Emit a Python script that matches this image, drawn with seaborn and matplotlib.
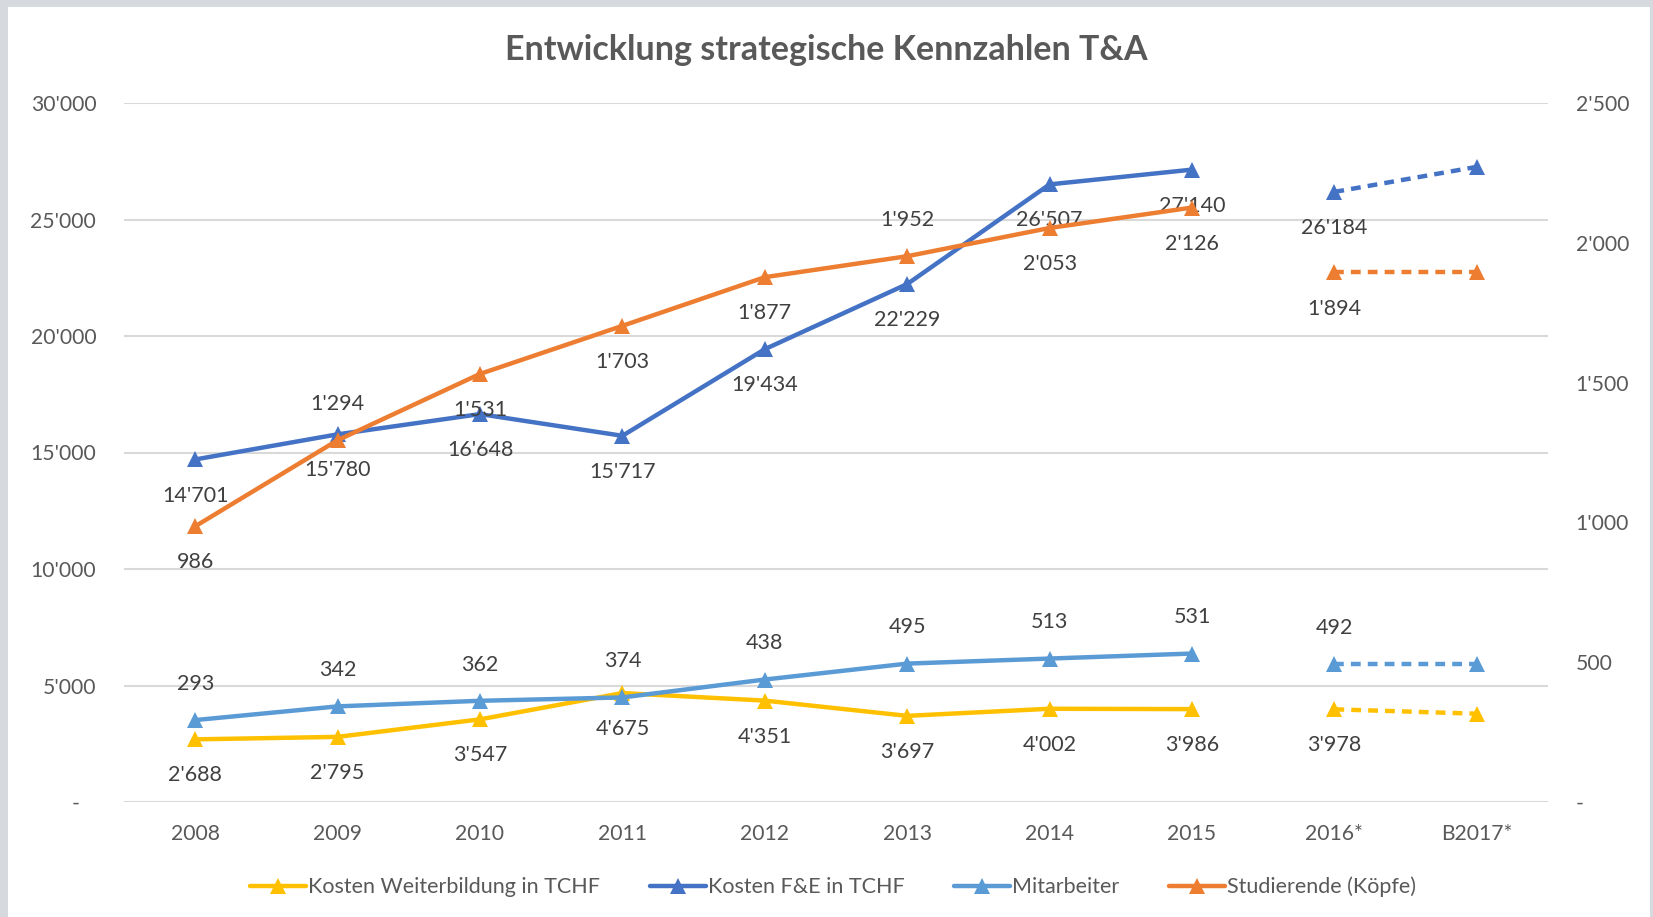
import matplotlib
matplotlib.use("Agg")
import matplotlib.pyplot as plt
import seaborn as sns
from matplotlib.patches import Rectangle
from matplotlib.lines import Line2D

# data
jahre = ["2008", "2009", "2010", "2011", "2012", "2013", "2014", "2015", "2016*", "B2017*"]
weiterbildung = [2688, 2795, 3547, 4675, 4351, 3697, 4002, 3986, 3978, 3790]
fue = [14701, 15780, 16648, 15717, 19434, 22229, 26507, 27140, 26184, 27260]
mitarbeiter = [293, 342, 362, 374, 438, 495, 513, 531, 492, 492]
studierende = [986, 1294, 1531, 1703, 1877, 1952, 2053, 2126, 1894, 1894]
# label above (+1) or below (-1) the point, None = no label
pos_weiterbildung = [-1, -1, -1, -1, -1, -1, -1, -1, -1, None]
pos_fue = [-1, -1, -1, -1, -1, -1, -1, -1, -1, None]
pos_mitarbeiter = [1, 1, 1, 1, 1, 1, 1, 1, 1, None]
pos_studierende = [-1, 1, -1, -1, -1, 1, -1, -1, -1, None]

sns.set_theme(style="white")
plt.rcParams["font.family"] = ["Lato", "DejaVu Sans"]

grau = "#595959"
txt = "#404040"

fig = plt.figure(figsize=(16.53, 9.17), dpi=100)
fig.patch.set_facecolor("#D6D9DE")
fig.patches.append(Rectangle((8 / 1653, 0), (1650 - 8) / 1653, 1 - 7 / 917,
                             transform=fig.transFigure, facecolor="white",
                             edgecolor="none", zorder=-10))

ax = fig.add_axes([124 / 1653, 1 - 802 / 917, (1548 - 124) / 1653, (802 - 103) / 917])
ax2 = ax.twinx()
ax.set_facecolor("none")
ax2.set_facecolor("none")

x = list(range(len(jahre)))
ist = slice(0, 8)
plan = slice(8, 10)


def fmt(v):
    return f"{v:,}".replace(",", "'")


def zeichne(a, werte, farbe, name, pos):
    sns.lineplot(x=x[ist], y=werte[ist], ax=a, color=farbe, linewidth=3.2,
                 marker="^", markersize=12, markeredgewidth=0, legend=False, zorder=3)
    sns.lineplot(x=x[plan], y=werte[plan], ax=a, color=farbe, linewidth=3.2,
                 linestyle=(0, (2.2, 1.6)), marker="^", markersize=12,
                 markeredgewidth=0, legend=False, zorder=3)
    for xi, v, p in zip(x, werte, pos):
        if p is None:
            continue
        a.annotate(fmt(v), (xi, v), xytext=(0, 26 * p), textcoords="offset points",
                   ha="center", va="center", fontsize=15.5, color=txt, zorder=5)
    return Line2D([], [], color=farbe, linewidth=3.2, marker="^", markersize=12,
                  markeredgewidth=0, label=name)


h1 = zeichne(ax, weiterbildung, "#FFC000", "Kosten Weiterbildung in TCHF", pos_weiterbildung)
h2 = zeichne(ax, fue, "#4472C4", "Kosten F&E in TCHF", pos_fue)
h3 = zeichne(ax2, mitarbeiter, "#5B9BD5", "Mitarbeiter", pos_mitarbeiter)
h4 = zeichne(ax2, studierende, "#ED7D31", "Studierende (Köpfe)", pos_studierende)

ax.set_xlim(-0.5, len(jahre) - 0.5)
ax.set_ylim(0, 30000)
ax2.set_ylim(0, 2500)
links = [0, 5000, 10000, 15000, 20000, 25000, 30000]
rechts = [0, 500, 1000, 1500, 2000, 2500]
ax.set_yticks(links)
ax.set_yticklabels(["-   "] + [fmt(v) for v in links[1:]])
ax2.set_yticks(rechts)
ax2.set_yticklabels(["-"] + [fmt(v) for v in rechts[1:]])
ax.set_xticks(x)
ax.set_xticklabels(jahre)
ax.yaxis.grid(True, color="#D9D9D9", linewidth=1.5)
ax.set_axisbelow(True)
for a in (ax, ax2):
    for s in a.spines.values():
        s.set_visible(False)
    a.tick_params(length=0, labelsize=15.2, labelcolor=grau)
    a.set_xlabel("")
    a.set_ylabel("")
ax.tick_params(axis="y", pad=20)
ax2.tick_params(axis="y", pad=20)
ax.tick_params(axis="x", pad=16)

fig.text(0.5, 1 - 50 / 917, "Entwicklung strategische Kennzahlen T&A",
         ha="center", va="center", fontsize=24.5, fontweight="bold", color=grau)

fig.legend(handles=[h1, h2, h3, h4], loc="center", bbox_to_anchor=(0.504, 1 - 887 / 917),
           ncol=4, frameon=False, fontsize=15.5, labelcolor=grau, handlelength=2.6,
           handletextpad=0.1, columnspacing=2.3)

fig.savefig("out.png", dpi=100, facecolor=fig.get_facecolor())
